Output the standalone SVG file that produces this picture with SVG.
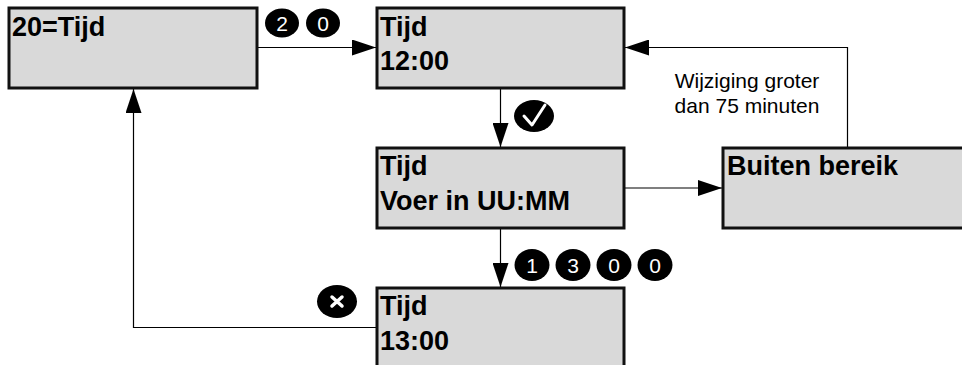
<svg xmlns="http://www.w3.org/2000/svg" width="962" height="365" viewBox="0 0 962 365">
<defs>
<style>
.box{fill:#d9d9d9;stroke:#111;stroke-width:3}
.bt{font-family:"Liberation Sans",Arial,sans-serif;font-weight:bold;font-size:27px;fill:#000}
.lbl{font-family:"Liberation Sans",Arial,sans-serif;font-size:21px;fill:#000}
.con{fill:none;stroke:#000;stroke-width:1.2}
.bdg{fill:#000}
.dg{font-family:"Liberation Sans",Arial,sans-serif;font-size:21px;fill:#fff;text-anchor:middle}
</style>
<marker id="ah" markerWidth="24" markerHeight="16" refX="24" refY="8" orient="auto" markerUnits="userSpaceOnUse">
<path d="M0,0 L24,8 L0,16 Z" fill="#000"/>
</marker>
</defs>
<rect width="962" height="365" fill="#fff"/>
<g id="connectors">
<path class="con" d="M257,47.5 H376" marker-end="url(#ah)"/>
<path class="con" d="M500.5,88 V147" marker-end="url(#ah)"/>
<path class="con" d="M500.5,228 V287" marker-end="url(#ah)"/>
<path class="con" d="M624,188 H722" marker-end="url(#ah)"/>
<path class="con" d="M847.5,147 V47.5 H625" marker-end="url(#ah)"/>
<path class="con" d="M376,327.5 H133.5 V89" marker-end="url(#ah)"/>
</g>
<g id="badges">
<ellipse class="bdg" cx="282" cy="23" rx="17" ry="14.5"/>
<text class="dg" x="282" y="31">2</text>
<ellipse class="bdg" cx="323" cy="23" rx="17" ry="14.5"/>
<text class="dg" x="323" y="31">0</text>
<ellipse class="bdg" cx="534" cy="116" rx="20" ry="16"/>
<path d="M524,116 L532,125 L545,105" fill="none" stroke="#fff" stroke-width="3" stroke-linecap="round" stroke-linejoin="round"/>
<ellipse class="bdg" cx="532" cy="265" rx="17.5" ry="16"/>
<text class="dg" x="532" y="273">1</text>
<ellipse class="bdg" cx="573" cy="265" rx="17.5" ry="16"/>
<text class="dg" x="573" y="273">3</text>
<ellipse class="bdg" cx="614" cy="265" rx="17.5" ry="16"/>
<text class="dg" x="614" y="273">0</text>
<ellipse class="bdg" cx="655" cy="265" rx="17.5" ry="16"/>
<text class="dg" x="655" y="273">0</text>
<ellipse class="bdg" cx="337" cy="301.5" rx="20" ry="16.5"/>
<path d="M332,297 L342,306 M342,297 L332,306" stroke="#fff" stroke-width="3.5" stroke-linecap="round"/>
</g>
<g id="node-20tijd">
<rect class="box" x="9" y="8" width="248" height="80"/>
<text class="bt" x="12" y="36">20=Tijd</text>
</g>
<g id="node-tijd1200">
<rect class="box" x="377" y="8" width="247" height="80"/>
<text class="bt" x="380" y="36">Tijd</text>
<text class="bt" x="380" y="70">12:00</text>
</g>
<g id="node-voerin">
<rect class="box" x="377" y="148" width="247" height="80"/>
<text class="bt" x="380" y="175">Tijd</text>
<text class="bt" x="380" y="210">Voer in UU:MM</text>
</g>
<g id="node-buiten">
<rect class="box" x="723" y="148" width="250" height="80"/>
<text class="bt" x="727" y="175">Buiten bereik</text>
</g>
<g id="node-tijd1300">
<rect class="box" x="377" y="288" width="247" height="90"/>
<text class="bt" x="380" y="315">Tijd</text>
<text class="bt" x="380" y="350">13:00</text>
</g>
<g id="label-wijziging">
<text class="lbl" x="747" y="88" text-anchor="middle">Wijziging groter</text>
<text class="lbl" x="747" y="113" text-anchor="middle">dan 75 minuten</text>
</g>
</svg>
